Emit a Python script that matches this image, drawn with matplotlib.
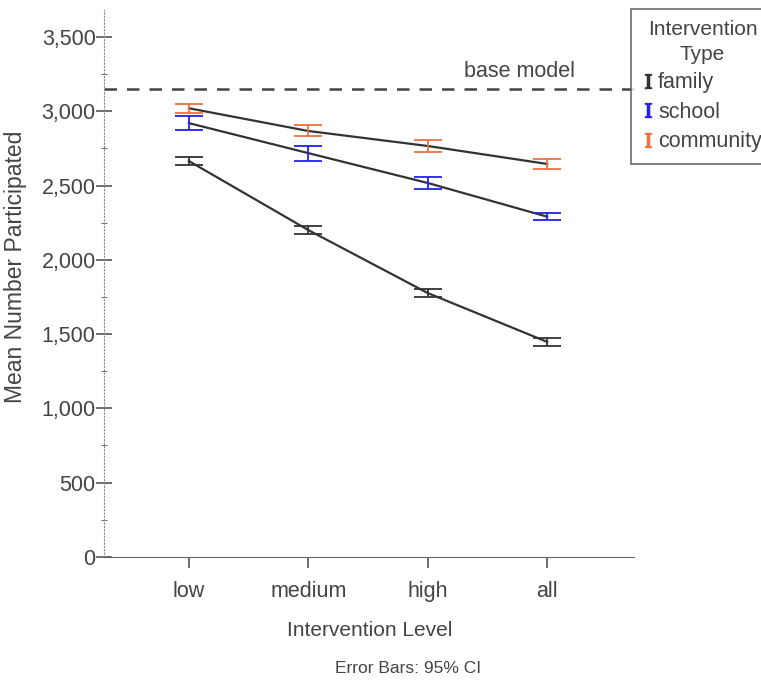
import numpy as np
import matplotlib.pyplot as plt
from matplotlib.lines import Line2D
from matplotlib.ticker import FuncFormatter, MultipleLocator

plt.rcParams['font.family'] = ['Liberation Sans', 'DejaVu Sans']
plt.rcParams['mathtext.fontset'] = 'stix'

levels = ["low", "medium", "high", "all"]
types = ["family", "school", "community"]
colors = ["#333333", "#2222ee", "#f07040"]

# means and 95% CI half widths
means = {
    "family": [2665, 2200, 1776, 1447],
    "school": [2920, 2718, 2517, 2290],
    "community": [3020, 2867, 2766, 2645],
}
ci = {
    "family": [27, 27, 27, 27],
    "school": [45, 50, 43, 25],
    "community": [31, 37, 39, 34],
}
base_model = 3150

txt = "#444444"
fig = plt.figure(figsize=(7.61, 6.8), dpi=100)
ax = fig.add_axes([0.1367, 0.181, 0.697, 0.804])

x = np.arange(len(levels))
for t, c in zip(types, colors):
    ax.plot(x, means[t], color="#333333", lw=1.6, zorder=2)
    ax.errorbar(x, means[t], yerr=ci[t], fmt='none', ecolor=c,
                elinewidth=1.3, capsize=10, capthick=1.3, zorder=3)

ax.axhline(base_model, color="#444444", lw=1.8, ls=(0, (5, 4)), zorder=1,
           clip_on=False, xmax=1.02)
ax.text(2.77, base_model + 45, "base model", color=txt, fontsize=15.5,
        ha="center", va="bottom")

ax.set_xlim(-0.71, 3.73)
ax.set_ylim(0, 3680)
ax.set_xticks(x)
ax.set_xticklabels(levels)
ax.yaxis.set_major_locator(MultipleLocator(500))
ax.yaxis.set_minor_locator(MultipleLocator(250))
ax.yaxis.set_major_formatter(FuncFormatter(lambda v, p: f"{int(v):,}"))

for s in ["top", "right"]:
    ax.spines[s].set_visible(False)
ax.spines['left'].set_linestyle((0, (1, 2)))
ax.spines['left'].set_color("#888888")
ax.spines['bottom'].set_color("#666666")
ax.tick_params(axis='y', direction='inout', length=12, width=1.2,
               color="#555555", labelcolor=txt, labelsize=15.5, pad=0)
ax.tick_params(axis='y', which='minor', direction='inout', length=4,
               color="#555555")
ax.tick_params(axis='x', direction='out', length=8, width=1.2,
               color="#555555", labelcolor=txt, labelsize=15.5, pad=9)

ax.set_xlabel("Intervention Level", color=txt, fontsize=15, labelpad=14)
ax.set_ylabel("Mean Number Participated", color=txt, fontsize=16.5)
ax.yaxis.set_label_coords(-0.146, 0.53)

handles = [Line2D([], [], ls='none', marker=r'$\mathrm{I}$', color=c,
                  markersize=10, label=t) for t, c in zip(types, colors)]
leg = ax.legend(handles=handles, title="Intervention\nType",
                loc="upper left", bbox_to_anchor=(0.994, 1.003),
                frameon=True, fancybox=False, fontsize=15.5,
                title_fontsize=15, handlelength=0.5, handletextpad=0.2,
                borderpad=0.55, labelspacing=0.4, borderaxespad=0)
leg.get_frame().set_edgecolor("#555555")
leg.get_frame().set_linewidth(1.3)
leg.get_title().set_color(txt)
leg.get_title().set_multialignment("center")
leg.get_title().set_linespacing(1.35)
for tx in leg.get_texts():
    tx.set_color(txt)

fig.text(0.536, 0.006, "Error Bars: 95% CI", color=txt, fontsize=12.5,
         ha="center", va="bottom")

fig.savefig("out.png", dpi=100)
